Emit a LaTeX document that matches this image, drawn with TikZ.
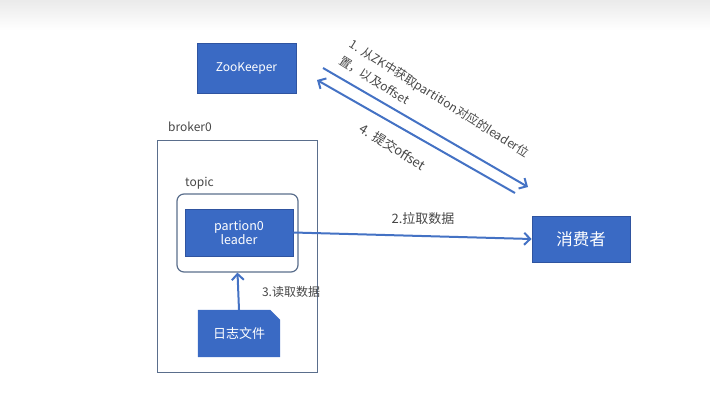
\documentclass[tikz,border=0pt]{standalone}
\usepackage{fontspec}
\setmainfont{Noto Sans CJK SC}
\usetikzlibrary{arrows.meta,backgrounds}
\definecolor{boxblue}{RGB}{58,106,196}
\definecolor{boxedge}{RGB}{47,84,160}
\definecolor{lineblue}{RGB}{68,114,196}
\definecolor{txtgray}{RGB}{70,70,70}
\definecolor{frame}{RGB}{90,110,140}
\tikzset{
  bluebox/.style={fill=boxblue,draw=boxedge,line width=0.8pt,text=white,align=center,inner sep=0pt},
  lbl/.style={text=txtgray,font=\fontsize{12}{14}\selectfont,inner sep=0pt},
  conn/.style={draw=lineblue,line width=2pt,-{Straight Barb[length=6pt,width=12pt,line width=2pt]}},
}
\begin{document}
\begin{tikzpicture}[x=1pt,y=-1pt]
\useasboundingbox (0,0) rectangle (710,409);
\shade[top color=black!8,bottom color=white] (0,0) rectangle (710,30);
% broker
\node[draw=frame,line width=0.9pt,minimum width=160,minimum height=232,inner sep=0pt] (broker) at (237,256) {};
\node[lbl,anchor=base west] (brokerlbl) at (168,132) {broker0};
% topic
\node[draw=frame,line width=1.2pt,rounded corners=7pt,minimum width=121,minimum height=78,inner sep=0pt] (topic) at (237.5,233) {};
\node[lbl,anchor=base west] (topiclbl) at (185,187) {topic};
% partition
\node[bluebox,minimum width=108,minimum height=47,font=\fontsize{12.5}{13.5}\selectfont] (part) at (239,232.5) {partion0\\leader};
% zookeeper
\node[bluebox,minimum width=99,minimum height=50,font=\fontsize{12}{13}\selectfont] (zk) at (246.5,68) {ZooKeeper};
% consumer
\node[bluebox,minimum width=98,minimum height=46,font=\fontsize{16.5}{18}\selectfont] (cons) at (581,239) {消费者};
% log file
\node[minimum width=82,minimum height=47,inner sep=0pt,text=white,font=\fontsize{13}{15}\selectfont] (log) at (239,333.5) {日志文件};
\begin{scope}[on background layer]
\fill[boxblue] (log.north west) -- ([xshift=-10]log.north east) -- ([yshift=-10]log.north east) -- (log.south east) -- (log.south west) -- cycle;
\end{scope}
% connectors
\draw[conn] (log.north) -- (topic.south);
\node[lbl] (l3) at (291,292) {3.读取数据};
\draw[conn] (part.east) -- (cons.west);
\node[lbl,font=\fontsize{13}{15}\selectfont] (l2) at (423,219) {2.拉取数据};
\coordinate (a1s) at (323,68);
\coordinate (a1e) at (528,187);
\coordinate (a4s) at (515,193);
\coordinate (a4e) at (317,80);
\draw[conn] (a1s) -- (a1e);
\draw[conn] (a4s) -- (a4e);
\node[lbl,rotate=-32,anchor=north west,align=left,font=\fontsize{12}{19}\selectfont] (l1) at (354,38) {1. 从ZK中获取partition对应的leader位\\置，以及offset};
\node[lbl,rotate=-32,font=\fontsize{13}{15}\selectfont] (l4) at (393,147) {4. 提交offset};
\end{tikzpicture}
\end{document}
